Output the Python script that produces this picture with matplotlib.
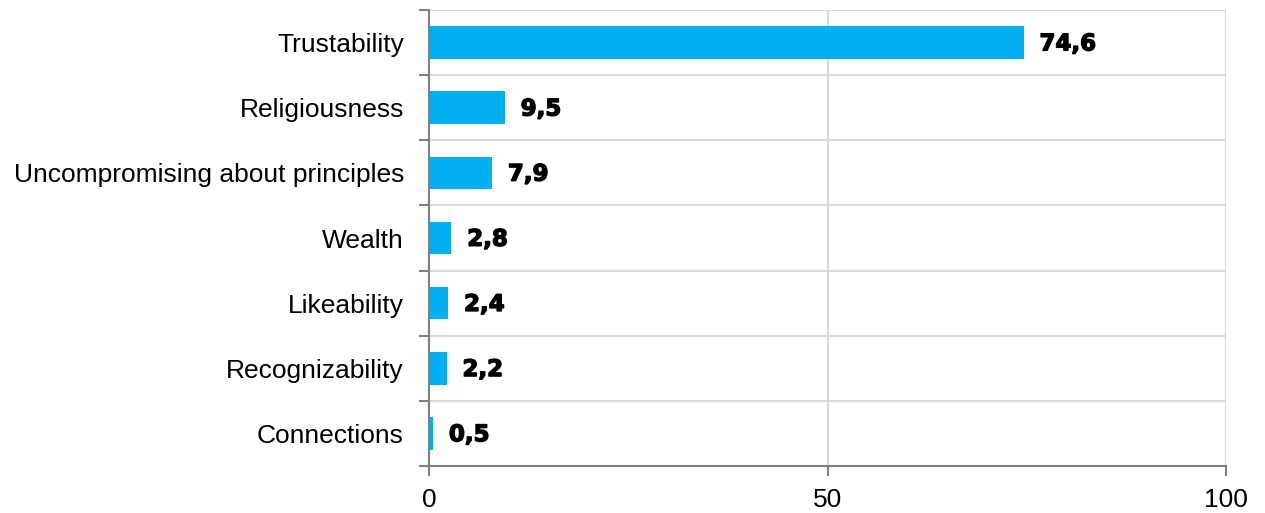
import numpy as np
import matplotlib.pyplot as plt
import matplotlib.patheffects as pe
from matplotlib.ticker import FixedLocator

categories = ["Trustability", "Religiousness", "Uncompromising about principles",
              "Wealth", "Likeability", "Recognizability", "Connections"]
values = [74.6, 9.5, 7.9, 2.8, 2.4, 2.2, 0.5]
value_labels = ["74,6", "9,5", "7,9", "2,8", "2,4", "2,2", "0,5"]
x_ticks = [0, 50, 100]

bar_color = "#00B0F0"
grid_color = "#D9D9D9"
axis_color = "#808080"

fig = plt.figure(figsize=(12.65, 5.13), dpi=100)
ax = fig.add_axes([429 / 1265, 47 / 513, (1226 - 429) / 1265, (466 - 10) / 513])

y = np.arange(len(categories))
ax.barh(y, values, height=0.5, color=bar_color, zorder=3)
ax.set_ylim(len(categories) - 0.5, -0.5)
ax.set_xlim(0, 100)

# heavy value labels to the right of each bar
for yi, v, lab in zip(y, values, value_labels):
    ax.text(v + 2, yi + 0.02, lab, va="center", ha="left", fontsize=16.5,
            fontweight="heavy", family="DejaVu Sans", color="black", zorder=4,
            path_effects=[pe.withStroke(linewidth=1.0, foreground="black")])

# category labels at bar centres, boundary ticks between them
ax.set_yticks(y)
ax.set_yticklabels(categories, fontsize=19, family="Liberation Sans")
ax.tick_params(axis="y", which="major", length=0, pad=18)
ax.yaxis.set_minor_locator(FixedLocator(np.arange(-0.5, len(categories), 1)))
ax.tick_params(axis="y", which="minor", length=7, width=1.5, color=axis_color)
ax.grid(axis="y", which="minor", color=grid_color, linewidth=1.5, zorder=0)

ax.set_xticks(x_ticks)
ax.set_xticklabels([str(t) for t in x_ticks], fontsize=19, family="Liberation Sans")
ax.tick_params(axis="x", length=7, width=1.5, color=axis_color, pad=9)
ax.grid(axis="x", which="major", color=grid_color, linewidth=1.5, zorder=0)

for side in ["top", "right"]:
    ax.spines[side].set_visible(False)
for side in ["left", "bottom"]:
    ax.spines[side].set_color(axis_color)
    ax.spines[side].set_linewidth(1.5)
    ax.spines[side].set_zorder(5)

fig.savefig("out.png", dpi=100)
